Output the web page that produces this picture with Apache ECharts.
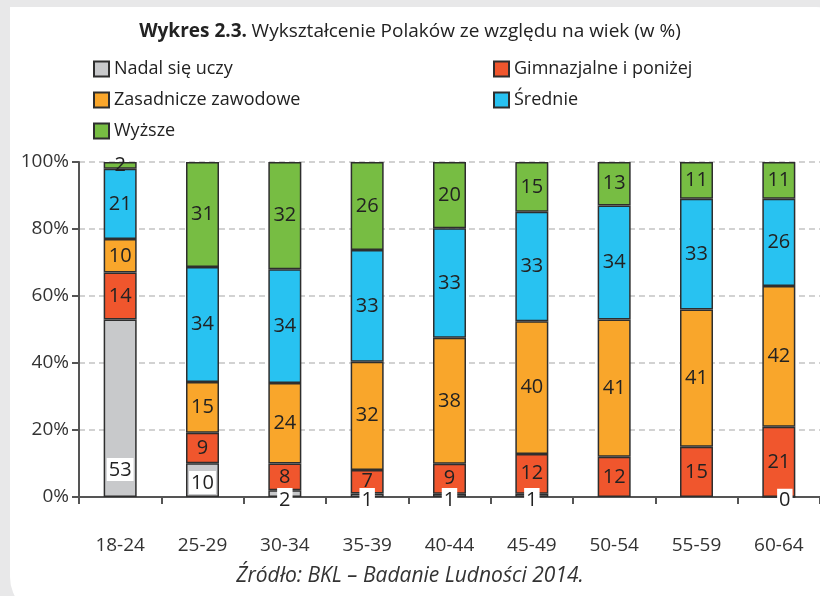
<!DOCTYPE html>
<html>
<head>
<meta charset="utf-8">
<script src="https://cdn.jsdelivr.net/npm/echarts@6/dist/echarts.min.js"></script>
<style>
  html, body { margin: 0; padding: 0; background: #e8e8e9; }
  #chart { width: 820px; height: 596px; }
</style>
</head>
<body>
<div id="chart"></div>
<script>
// age groups
const ages = ['18-24', '25-29', '30-34', '35-39', '40-44', '45-49', '50-54', '55-59', '60-64'];

// values as printed in the bars (w %)
const nadal = [53, 10, 2, 1, 1, 1, null, null, 0];
const gimnazjalne = [14, 9, 8, 7, 9, 12, 12, 15, 21];
const zasadnicze = [10, 15, 24, 32, 38, 40, 41, 41, 42];
const srednie = [21, 34, 34, 33, 33, 33, 34, 33, 26];
const wyzsze = [2, 31, 32, 26, 20, 15, 13, 11, 11];

const yTicks = [0, 20, 40, 60, 80, 100];

const FONT = '"Open Sans", "Noto Sans", sans-serif';
const groups = [
  { name: 'Nadal się uczy', values: nadal, color: '#c8c9cb' },
  { name: 'Gimnazjalne i poniżej', values: gimnazjalne, color: '#f0562d' },
  { name: 'Zasadnicze zawodowe', values: zasadnicze, color: '#f9a62b' },
  { name: 'Średnie', values: srednie, color: '#28c2f1' },
  { name: 'Wyższe', values: wyzsze, color: '#77bd43' }
];

// each bar is drawn as 100% of its printed values
const totals = ages.map((_, i) => groups.reduce((s, g) => s + (g.values[i] || 0), 0));

// label placement for the "Nadal się uczy" boxes
function grayLabel(i, v) {
  if (v >= 30) return { position: 'insideBottom', distance: 16 };
  if (v >= 5) return { position: 'insideBottom', distance: 3 };
  return { position: 'insideBottom', distance: 0, offset: [i === 8 ? 6 : 0, 14] };
}

const series = groups.map((g, gi) => ({
  name: g.name,
  type: 'bar',
  stack: 'all',
  barWidth: 33,
  itemStyle: { color: g.color, borderColor: '#2e2e2e', borderWidth: 1.5 },
  label: {
    show: true,
    position: 'inside',
    color: '#222',
    fontFamily: FONT,
    fontSize: 20,
    formatter: p => String(g.values[p.dataIndex]),
    ...(gi === 0 ? { backgroundColor: '#fff', padding: [1, 2, 0, 2], lineHeight: 22 } : {})
  },
  data: g.values.map((v, i) => {
    if (v === null) return null;
    const item = { value: v / totals[i] * 100 };
    if (gi === 0) item.label = grayLabel(i, v);
    return item;
  })
}));

const legendStyle = {
  orient: 'vertical', top: 52, itemGap: 7,
  itemWidth: 15, itemHeight: 15, icon: 'rect',
  textStyle: { fontFamily: FONT, fontSize: 18, color: '#222', lineHeight: 24 }
};

const chart = echarts.init(document.getElementById('chart'));
chart.setOption({
  animation: false,
  textStyle: { fontFamily: FONT },
  graphic: [
    { type: 'rect', shape: { x: 0, y: 0, width: 820, height: 596 }, style: { fill: '#e8e8e9' }, z: -10, silent: true },
    { type: 'rect', shape: { x: 10, y: 7, width: 830, height: 610, r: [0, 24, 0, 40] }, style: { fill: '#ffffff' }, z: -9, silent: true },
    {
      type: 'text', left: 'center', top: 566,
      style: { text: 'Źródło: BKL – Badanie Ludności 2014.', fontFamily: FONT, fontSize: 21, fontStyle: 'italic', fill: '#333' }
    }
  ],
  title: {
    text: '{b|Wykres 2.3.} {n|Wykształcenie Polaków ze względu na wiek (w %)}',
    left: 'center',
    top: 17,
    textStyle: {
      rich: {
        b: { fontFamily: FONT, fontSize: 19, fontWeight: 'bold', color: '#222' },
        n: { fontFamily: FONT, fontSize: 19, fontWeight: 'normal', color: '#222' }
      }
    }
  },
  legend: [
    Object.assign({ data: ['Nadal się uczy', 'Zasadnicze zawodowe', 'Wyższe'], left: 88 }, legendStyle),
    Object.assign({ data: ['Gimnazjalne i poniżej', 'Średnie'], left: 488 }, legendStyle)
  ],
  grid: { left: 79, right: -1, top: 162, bottom: 99, containLabel: false },
  xAxis: {
    type: 'category',
    data: ages,
    axisLine: { lineStyle: { color: '#555', width: 2 } },
    axisTick: { show: true, length: 7, lineStyle: { color: '#555', width: 2 } },
    axisLabel: { margin: 39, fontSize: 19, color: '#333', fontFamily: FONT }
  },
  yAxis: {
    type: 'value',
    min: yTicks[0],
    max: yTicks[yTicks.length - 1],
    interval: yTicks[1] - yTicks[0],
    axisLine: { show: true, lineStyle: { color: '#555', width: 2 } },
    axisTick: { show: true, length: 7, lineStyle: { color: '#555', width: 2 } },
    axisLabel: { formatter: '{value}%', fontSize: 19, color: '#333', fontFamily: FONT, margin: 10 },
    splitLine: { lineStyle: { color: '#c4c4c4', type: [6, 4], width: 1.5 } }
  },
  series: series
});
</script>
</body>
</html>
